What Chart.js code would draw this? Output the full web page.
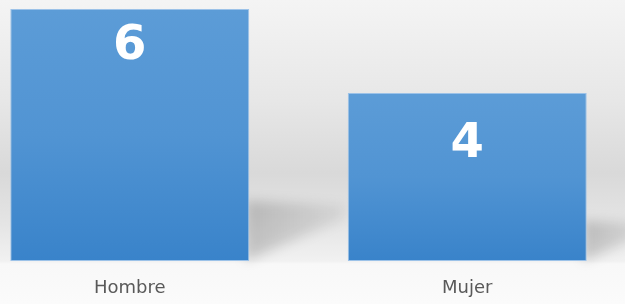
<!DOCTYPE html>
<html>
<head>
<meta charset="utf-8">
<script src="https://cdn.jsdelivr.net/npm/chart.js@4"></script>
<style>
  html, body { margin: 0; padding: 0; overflow: hidden; background: #f9f9f9; }
  #wrap { position: absolute; left: -39px; top: 0; width: 675px; height: 304px; }
</style>
</head>
<body>
<div id="wrap"><canvas id="chart"></canvas></div>
<script>
const categories = ['Hombre', 'Mujer'];
const values = [6, 4];
const yMin = 0;
const yMax = 6;

// where the white numbers sit below the bar top (baseline)
const labelDrop = [50, 64];

const bgPlugin = {
  id: 'bg',
  beforeDraw(chart) {
    const { ctx, width, height, chartArea } = chart;
    const g = ctx.createLinearGradient(0, 0, 0, height);
    const b = chartArea.bottom / height;
    g.addColorStop(0, '#f4f4f4');
    g.addColorStop(0.33, '#e7e7e7');
    g.addColorStop(0.57, '#d9d9d9');
    g.addColorStop(0.74, '#e5e5e5');
    g.addColorStop(b, '#f1f1f1');
    g.addColorStop(Math.min(1, b + 0.01), '#f8f8f8');
    g.addColorStop(1, '#fbfbfb');
    ctx.save();
    ctx.fillStyle = g;
    ctx.fillRect(0, 0, width, height);
    ctx.restore();
  }
};

const shadowPlugin = {
  id: 'floorShadow',
  beforeDatasetsDraw(chart) {
    const ctx = chart.ctx;
    chart.getDatasetMeta(0).data.forEach(bar => {
      const xr = bar.x + bar.width / 2;
      const h = bar.base - bar.y;
      const base = bar.base;
      const g = ctx.createLinearGradient(xr, 0, xr + 0.4 * h, 0);
      g.addColorStop(0, 'rgba(0,0,0,0.18)');
      g.addColorStop(1, 'rgba(0,0,0,0.05)');
      ctx.save();
      ctx.filter = 'blur(6px)';
      ctx.fillStyle = g;
      ctx.beginPath();
      ctx.moveTo(xr - 4, base);
      ctx.lineTo(xr - 4, base - 0.24 * h);
      ctx.lineTo(xr + 0.38 * h, base - 0.22 * h);
      ctx.lineTo(xr + 0.38 * h, base - 0.17 * h);
      ctx.closePath();
      ctx.fill();
      ctx.restore();
    });
  }
};

const valuePlugin = {
  id: 'values',
  afterDatasetsDraw(chart) {
    const ctx = chart.ctx;
    ctx.save();
    ctx.fillStyle = '#ffffff';
    ctx.font = 'bold 48px "DejaVu Sans"';
    ctx.textAlign = 'center';
    ctx.textBaseline = 'alphabetic';
    chart.getDatasetMeta(0).data.forEach((bar, i) => {
      ctx.fillText(String(values[i]), bar.x, bar.y + labelDrop[i]);
    });
    ctx.restore();
  }
};

const ctx = document.getElementById('chart');
new Chart(ctx, {
  type: 'bar',
  data: {
    labels: categories,
    datasets: [{
      data: values,
      backgroundColor: (c) => {
        const chart = c.chart;
        if (!chart.chartArea) return '#4a90d2';
        const yTop = chart.scales.y.getPixelForValue(c.raw);
        const yBot = chart.scales.y.getPixelForValue(yMin);
        const g = chart.ctx.createLinearGradient(0, yTop, 0, yBot);
        g.addColorStop(0, '#5c9cd7');
        g.addColorStop(0.5, '#5194d3');
        g.addColorStop(1, '#3983ca');
        return g;
      },
      borderColor: '#9cc2e8',
      borderWidth: 1,
      borderSkipped: false,
      categoryPercentage: 1,
      barPercentage: 0.708
    }]
  },
  options: {
    responsive: true,
    maintainAspectRatio: false,
    animation: false,
    layout: { padding: { top: 9, left: 0, right: 0, bottom: 0 } },
    plugins: {
      legend: { display: false },
      tooltip: { enabled: false }
    },
    scales: {
      x: {
        grid: { display: false },
        border: { display: false },
        ticks: {
          color: '#595959',
          font: { family: 'DejaVu Sans', size: 18 },
          padding: 9
        },
        afterFit(scale) { scale.height = 43; }
      },
      y: {
        display: false,
        min: yMin,
        max: yMax
      }
    }
  },
  plugins: [bgPlugin, shadowPlugin, valuePlugin]
});
</script>
</body>
</html>
